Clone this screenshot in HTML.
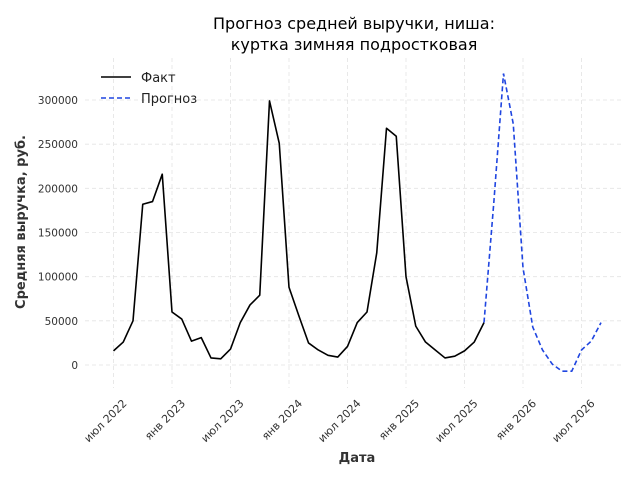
<!DOCTYPE html>
<html><head><meta charset="utf-8"><style>
body{margin:0;background:#fff;}
svg text{font-family:"DejaVu Sans","Liberation Sans",sans-serif;}
</style></head><body>
<svg id="chart" width="640" height="480" xmlns="http://www.w3.org/2000/svg">
<g id="grid"></g>
<g id="marks"></g>
<g id="axes"></g>
<text x="354" y="29" font-size="16" text-anchor="middle" fill="#000">Прогноз средней выручки, ниша:</text>
<text x="354" y="50" font-size="16" text-anchor="middle" fill="#000">куртка зимняя подростковая</text>
<text x="357" y="462" font-size="13" font-weight="bold" text-anchor="middle" fill="#333">Дата</text>
<text transform="translate(25,222) rotate(-90)" font-size="13" font-weight="bold" text-anchor="middle" fill="#333">Средняя выручка, руб.</text>
<g>
<line x1="101" y1="77" x2="131" y2="77" stroke="#000" stroke-width="1.5"/>
<text x="141" y="82" font-size="13" fill="#222">Факт</text>
<line x1="101" y1="98" x2="131" y2="98" stroke="#1f45e0" stroke-width="1.5" stroke-dasharray="5,3"/>
<text x="141" y="103" font-size="13" fill="#222">Прогноз</text>
</g>
</svg>
<script>
const factValues=[16000,26000,50000,182000,185000,216000,60000,52000,27000,31000,8000,7000,18000,48000,68000,79000,299000,251000,88000,56000,25000,17000,11000,9000,21000,48000,60000,127000,268000,259000,100000,44000,26000,17000,8000,10000,16000,26000,48000];
const forecastValues=[48000,183000,330000,273000,110000,43000,17000,1000,-7000,-7000,17000,27000,48000];
const yTicks=[0,50000,100000,150000,200000,250000,300000];
const xTickLabels=["июл 2022","янв 2023","июл 2023","янв 2024","июл 2024","янв 2025","июл 2025","янв 2026","июл 2026"];
const xTickMonths=[0,6,12,18,24,30,36,42,48];
const NS="http://www.w3.org/2000/svg";
function X(m){return 113.5+m*9.75;}
function Y(v){return 365-v*265/300000;}
function mk(t,a,p){const e=document.createElementNS(NS,t);for(const k in a)e.setAttribute(k,a[k]);p.appendChild(e);return e;}
const grid=document.getElementById('grid'),marks=document.getElementById('marks'),axes=document.getElementById('axes');
yTicks.forEach(v=>{
 const l=mk('line',{x1:85,x2:622,y1:Y(v),y2:Y(v),stroke:'#e3e3e3','stroke-dasharray':'4,3','stroke-width':0.8},grid);
 
 
 const t=mk('text',{x:78,y:Y(v)+4,'font-size':10.5,'text-anchor':'end',fill:'#333'},axes);
 t.textContent=String(v);
 
 
});
xTickMonths.forEach((m,i)=>{
 const l=mk('line',{x1:X(m),x2:X(m),y1:58,y2:388,stroke:'#e3e3e3','stroke-dasharray':'4,3','stroke-width':0.8},grid);
 
 
 const t=mk('text',{transform:`translate(${X(m)+14},404) rotate(-45)`,'font-size':11,'text-anchor':'end',fill:'#333'},axes);
 t.textContent=xTickLabels[i];
 
 
});
const fp=factValues.map((v,i)=>X(i)+','+Y(v)).join(' ');
const f=mk('polyline',{points:fp,fill:'none',stroke:'#000','stroke-width':1.6,'stroke-linejoin':'round'},marks);


const off=factValues.length-1;
const pp=forecastValues.map((v,i)=>X(off+i)+','+Y(v)).join(' ');
const p=mk('polyline',{points:pp,fill:'none',stroke:'#1f45e0','stroke-width':1.6,'stroke-dasharray':'5,3'},marks);


</script>
</body></html>
